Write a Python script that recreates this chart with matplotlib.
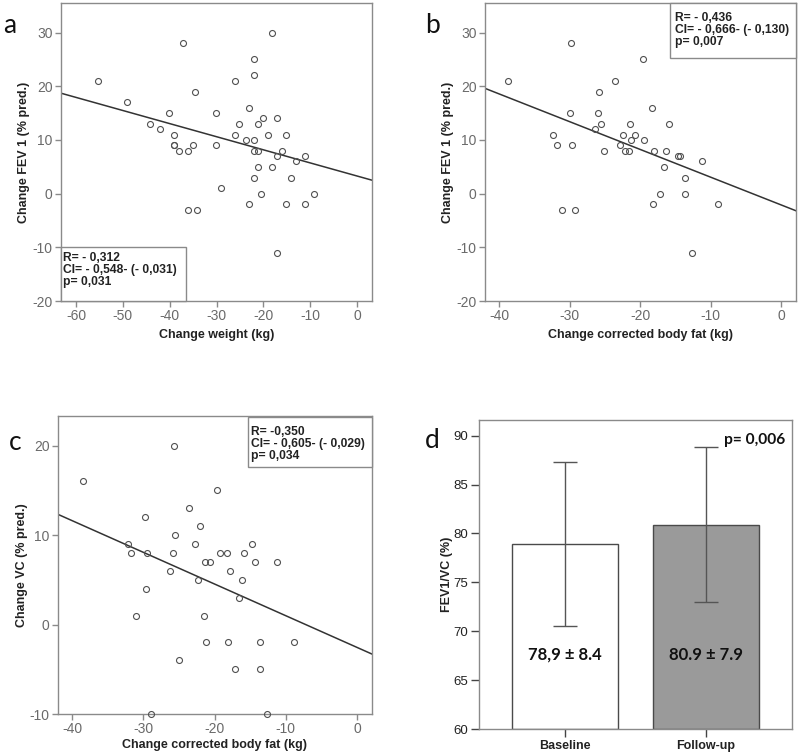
import numpy as np
import matplotlib.pyplot as plt
from matplotlib.patches import Rectangle

# panel a: change weight vs change FEV1
weight_a = [-55.3, -49.1, -44.1, -42.1, -40.1, -39.1, -39.1, -39.0, -38.1, -37.1,
            -36.1, -36.1, -35.1, -34.6, -34.1, -30.1, -30.1, -29.1, -26.1, -26.1,
            -25.1, -23.7, -23.1, -23.1, -22.1, -22.1, -22.0, -22.1, -22.1, -21.1,
            -21.1, -21.1, -20.6, -20.1, -19.1, -18.1, -18.1, -17.1, -17.1, -17.1,
            -16.1, -15.1, -15.1, -14.1, -13.1, -11.1, -11.1, -9.1]
fev_a = [21, 17, 13, 12, 15, 11, 9, 9, 8, 28,
         8, -3, 9, 19, -3, 15, 9, 1, 21, 11,
         13, 10, 16, -2, 25, 22, 10, 8, 3, 13,
         8, 5, 0, 14, 11, 30, 5, 14, 7, -11,
         8, 11, -2, 3, 6, 7, -2, 0]
fit_a = (-0.244, 3.28)
stats_a = "R= - 0,312\nCI= - 0,548- (- 0,031)\np= 0,031"

# panel b: change corrected body fat vs change FEV1
fat_b = [-38.7, -32.3, -31.8, -31.1, -29.9, -29.8, -29.6, -29.2, -26.4, -26.0,
         -25.8, -25.6, -25.1, -23.6, -22.8, -22.4, -22.1, -21.6, -21.4, -21.3,
         -20.8, -19.6, -19.4, -18.3, -18.2, -18.0, -17.2, -16.6, -16.3, -15.9,
         -14.7, -14.4, -13.6, -13.7, -12.7, -11.2, -8.9]
fev_b = [21, 11, 9, -3, 15, 28, 9, -3, 12, 15,
         19, 13, 8, 21, 9, 11, 8, 8, 13, 10,
         11, 25, 10, 16, -2, 8, 0, 5, 8, 13,
         7, 7, 3, 0, -11, 6, -2]
fit_b = (-0.517, -2.11)
stats_b = "R= - 0,436\nCI= - 0,666- (- 0,130)\np= 0,007"

# panel c: change corrected body fat vs change VC
fat_c = [-38.5, -32.1, -31.7, -31.0, -29.8, -29.7, -29.5, -29.0, -26.3, -25.9,
         -25.7, -25.5, -25.0, -23.6, -22.7, -22.3, -22.0, -21.5, -21.4, -21.2,
         -20.7, -19.7, -19.3, -18.3, -18.1, -17.9, -17.2, -16.6, -16.2, -15.9,
         -14.7, -14.3, -13.6, -13.7, -12.7, -11.2, -8.9]
vc_c = [16, 9, 8, 1, 12, 4, 8, -10, 6, 8,
        20, 10, -4, 13, 9, 5, 11, 1, 7, -2,
        7, 15, 8, 8, -2, 6, -5, 3, 5, 8,
        9, 7, -2, -5, -10, 7, -2]
fit_c = (-0.354, -2.56)
stats_c = "R= -0,350\nCI= - 0,605- (- 0,029)\np= 0,034"

# panel d: FEV1/VC bars
groups = ["Baseline", "Follow-up"]
means = [78.9, 80.9]
sds = [8.4, 7.9]
bar_labels = ["78,9 \u00b1 8.4", "80.9 \u00b1 7.9"]

plt.rcParams["font.family"] = ["Liberation Sans", "DejaVu Sans"]
plt.rcParams["axes.unicode_minus"] = False

W, H = 799, 755
fig = plt.figure(figsize=(W / 100, H / 100), dpi=100)

grey = "#8a8a8a"
tick_grey = "#6a6a6a"


def ax_px(x0, x1, y0, y1):
    return fig.add_axes([x0 / W, 1 - y1 / H, (x1 - x0) / W, (y1 - y0) / H])


def scatter_panel(ax, x, y, fit, xlim, ylim, yticks, xticks, xlabel, ylabel):
    ax.plot(x, y, "o", mfc="none", mec="#505050", ms=4.3, mew=0.8, zorder=3,
            clip_on=False)
    xx = np.array(xlim)
    ax.plot(xx, fit[0] * xx + fit[1], color="#333333", lw=1.1, zorder=2)
    ax.set_xlim(xlim)
    ax.set_ylim(ylim)
    ax.set_xticks(xticks)
    ax.set_yticks(yticks)
    for s in ax.spines.values():
        s.set_color(grey)
        s.set_linewidth(1.0)
    ax.tick_params(colors=grey, labelcolor=tick_grey, labelsize=10, length=4,
                   width=1.0, pad=2)
    ax.set_xlabel(xlabel, fontsize=9, fontweight="bold", color="#222222",
                  labelpad=4)
    ax.set_ylabel(ylabel, fontsize=9, fontweight="bold", color="#222222",
                  labelpad=1.5)


def stats_box(ax, x0, x1, y0, y1, tx, ty, text):
    ax.add_patch(Rectangle((x0, y0), x1 - x0, y1 - y0, transform=ax.transAxes,
                           fc="white", ec=grey, lw=1.0, zorder=5, clip_on=False))
    ax.text(tx, ty, text, transform=ax.transAxes, ha="left", va="top",
            fontsize=8.7, fontweight="bold", color="#222222", linespacing=1.0,
            zorder=6)


# a
ax = ax_px(61, 372, 3, 301)
scatter_panel(ax, weight_a, fev_a, fit_a, (-63.2, 3.2), (-20, 35.5),
              [-20, -10, 0, 10, 20, 30], [-60, -50, -40, -30, -20, -10, 0],
              "Change weight (kg)", "Change FEV 1 (% pred.)")
stats_box(ax, 0, 0.402, 0, 0.181, 0.008, 0.165, stats_a)

# b
ax = ax_px(485, 796, 3, 301)
scatter_panel(ax, fat_b, fev_b, fit_b, (-42.0, 2.1), (-20, 35.5),
              [-20, -10, 0, 10, 20, 30], [-40, -30, -20, -10, 0],
              "Change corrected body fat (kg)", "Change FEV 1 (% pred.)")
stats_box(ax, 0.595, 1.0, 0.815, 1.0, 0.61, 0.97, stats_b)

# c
ax = ax_px(58, 372, 416, 714)
scatter_panel(ax, fat_c, vc_c, fit_c, (-42.0, 2.1), (-10, 23.3),
              [-10, 0, 10, 20], [-40, -30, -20, -10, 0],
              "Change corrected body fat (kg)", "Change VC (% pred.)")
ax.xaxis.labelpad = 2
stats_box(ax, 0.605, 1.0, 0.829, 0.997, 0.616, 0.968, stats_c)

# d
ax = ax_px(479, 792, 420, 729)
pos = np.arange(len(groups))
ax.bar(pos, [m - 60 for m in means], bottom=60, width=0.75,
       color=["white", "#9a9a9a"], edgecolor="#4a4a4a", linewidth=1.0, zorder=2)
ax.errorbar(pos, means, yerr=sds, fmt="none", ecolor="#555555", elinewidth=1.0,
            capsize=8.5, capthick=1.0, zorder=3)
for p, lab in zip(pos, bar_labels):
    ax.text(p, 67.6, lab, ha="center", va="center", fontsize=12,
            fontweight="bold", family=["Lato", "DejaVu Sans"], color="#111111")
ax.text(1.13, 89.6, "p= 0,006", ha="left", va="center", fontsize=11.2,
        fontweight="bold", family=["Lato", "DejaVu Sans"], color="#111111")
ax.set_xlim(-0.61, 1.61)
ax.set_ylim(60, 91.6)
ax.set_yticks([60, 65, 70, 75, 80, 85, 90])
ax.set_xticks(pos)
ax.set_xticklabels(groups, fontweight="bold")
for s in ax.spines.values():
    s.set_color(grey)
    s.set_linewidth(1.0)
ax.tick_params(colors="#444444", labelcolor="#222222", labelsize=9.5,
               length=6, width=1.0, pad=2)
for lab in ax.get_xticklabels():
    lab.set_fontsize(9)
ax.set_ylabel("FEV1/VC (%)", fontsize=9, fontweight="bold", color="#222222",
              labelpad=0)

# panel letters
for lx, ly, letter in [(3, 33, "a"), (425, 33, "b"), (9, 450, "c"), (425, 448, "d")]:
    fig.text(lx / W, 1 - ly / H, letter, fontsize=19, family=["Lato", "DejaVu Sans"],
             ha="left", va="baseline", color="#111111")

fig.savefig("out.png", dpi=100)
